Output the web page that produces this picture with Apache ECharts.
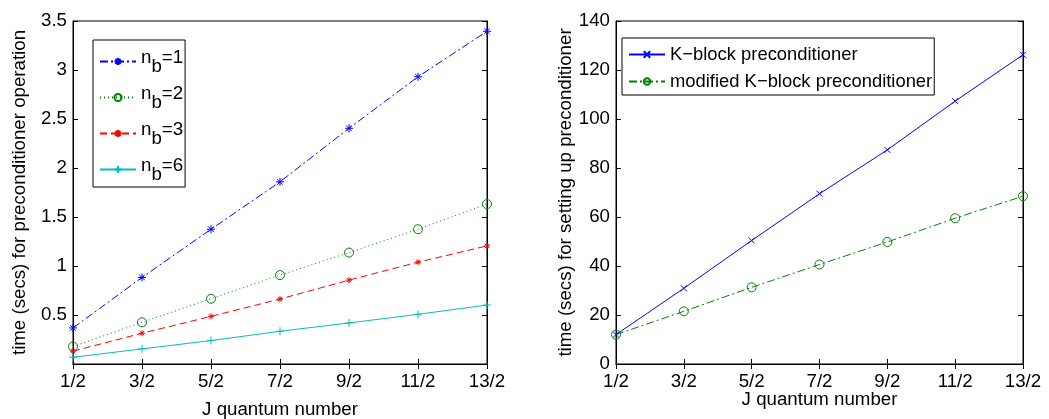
<!DOCTYPE html>
<html><head><meta charset="utf-8">
<script src="https://cdn.jsdelivr.net/npm/echarts@6/dist/echarts.min.js"></script>
<style>html,body{margin:0;padding:0;background:#fff}#c{width:1049px;height:419px}</style>
</head><body><div id="c"></div>
<script>
const categories = ['1/2','3/2','5/2','7/2','9/2','11/2','13/2'];
const nb1 = [0.368, 0.883, 1.375, 1.859, 2.405, 2.931, 3.395];
const nb2 = [0.178, 0.425, 0.666, 0.907, 1.137, 1.375, 1.632];
const nb3 = [0.131, 0.314, 0.486, 0.663, 0.856, 1.039, 1.205];
const nb6 = [0.069, 0.154, 0.239, 0.334, 0.419, 0.507, 0.602];
const kblock = [12.0, 30.9, 50.4, 69.5, 87.4, 107.3, 126.2];
const modk = [12.0, 21.5, 31.3, 40.6, 49.8, 59.5, 68.5];
const leftNames = ['nb=1','nb=2','nb=3','nb=6'];
const rightNames = ['K\u2212block preconditioner','modified K\u2212block preconditioner'];

const FONT = 'Liberation Sans';
const FS = 18.7;
const PLUS = 'path://M5,0L5,10M0,5L10,5';
const TIMES = 'path://M0,0L10,10M10,0L0,10';
const STAR = 'path://M5,0L5,10M0,5L10,5M1.5,1.5L8.5,8.5M8.5,1.5L1.5,8.5';
const CIRC = 'path://M10,5A5,5 0 1 1 0,5A5,5 0 1 1 10,5Z';

function xAx(grid, pos, labels) {
  return {
    type: 'category', gridIndex: grid, position: pos, data: categories, boundaryGap: false,
    axisLine: {show: true, lineStyle: {color: '#000', width: 1}},
    axisTick: {show: true, inside: true, length: 5, alignWithLabel: true, lineStyle: {color: '#000'}},
    axisLabel: {show: labels, color: '#000', fontFamily: FONT, fontSize: FS, margin: 8},
    splitLine: {show: false},
    name: labels ? 'J quantum number' : '', nameLocation: 'middle',
    nameGap: grid === 0 ? 36 : 26, nameMoveOverlap: false,
    nameTextStyle: {color: '#000', fontFamily: FONT, fontSize: FS}
  };
}
function yAx(grid, pos, labels, max, interval, name, gap) {
  return {
    type: 'value', gridIndex: grid, position: pos, min: 0, max: max, interval: interval,
    axisLine: {show: true, lineStyle: {color: '#000', width: 1}},
    axisTick: {show: true, inside: true, length: 5, lineStyle: {color: '#000'}},
    axisLabel: {show: labels, color: '#000', fontFamily: FONT, fontSize: FS, margin: 6,
      formatter: v => (grid === 0 && v === 0) ? '' : String(v)},
    splitLine: {show: false},
    name: labels ? name : '', nameLocation: 'middle', nameGap: gap, nameRotate: 90,
    nameTextStyle: {color: '#000', fontFamily: FONT, fontSize: FS}
  };
}
function ser(name, data, xi, yi, color, type, symbol, size) {
  return {
    name: name, type: 'line', xAxisIndex: xi, yAxisIndex: yi, data: data,
    symbol: symbol, symbolSize: size, showSymbol: true,
    lineStyle: {color: color, width: 1, type: type},
    itemStyle: {color: symbol === CIRC ? 'rgba(255,255,255,0)' : color, borderColor: color, borderWidth: 1},
    emphasis: {disabled: true}, animation: false
  };
}
const chart = echarts.init(document.getElementById('c'), null, {renderer: 'canvas'});
chart.setOption({
  animation: false,
  grid: [
    {left: 73, right: 562, top: 21, bottom: 55, show: true, borderColor: '#000', borderWidth: 1, outerBoundsMode: 'none', containLabel: false},
    {left: 616, right: 26, top: 21, bottom: 55, show: true, borderColor: '#000', borderWidth: 1, outerBoundsMode: 'none', containLabel: false}
  ],
  xAxis: [xAx(0, 'bottom', true), xAx(0, 'top', false), xAx(1, 'bottom', true), xAx(1, 'top', false)],
  yAxis: [
    yAx(0, 'left', true, 3.5, 0.5, 'time (secs) for preconditioner operation', 44),
    yAx(0, 'right', false, 3.5, 0.5, '', 0),
    yAx(1, 'left', true, 140, 20, 'time (secs) for setting up preconditioner', 39),
    yAx(1, 'right', false, 140, 20, '', 0)
  ],
  legend: [
    {
      data: leftNames, orient: 'vertical', left: 93, top: 40, width: 90,
      padding: [8, 2, 3, 6], itemGap: 8, itemWidth: 36, itemHeight: 9,
      borderColor: '#000', borderWidth: 1, backgroundColor: '#fff',
      formatter: n => '{a|n}{b|b}{a|=' + n.slice(3) + '}',
      textStyle: {color: '#000', fontFamily: FONT, fontSize: FS,
        rich: {a: {fontSize: FS, fontFamily: FONT, color: '#000', padding: [0, 0, 8, 0]},
               b: {fontSize: FS, fontFamily: FONT, color: '#000', padding: [10, 0, 0, 0]}}}
    },
    {
      data: rightNames, orient: 'vertical', left: 622, top: 38,
      padding: [6, 2, 3, 6], itemGap: 6, itemWidth: 36, itemHeight: 8,
      borderColor: '#000', borderWidth: 1, backgroundColor: '#fff',
      textStyle: {color: '#000', fontFamily: FONT, fontSize: 18.4, lineHeight: 21}
    }
  ],
  series: [
    ser('nb=1', nb1, 0, 0, '#0000ff', [8, 3, 2, 3], STAR, 8),
    ser('nb=2', nb2, 0, 0, '#008000', [1, 3], CIRC, 9),
    ser('nb=3', nb3, 0, 0, '#ff0000', [7, 4], STAR, 6),
    ser('nb=6', nb6, 0, 0, '#00bfbf', 'solid', PLUS, 8),
    ser(rightNames[0], kblock, 2, 2, '#0000ff', 'solid', TIMES, 6),
    ser(rightNames[1], modk, 2, 2, '#008000', [8, 3, 2, 3], CIRC, 9)
  ]
});
</script></body></html>
